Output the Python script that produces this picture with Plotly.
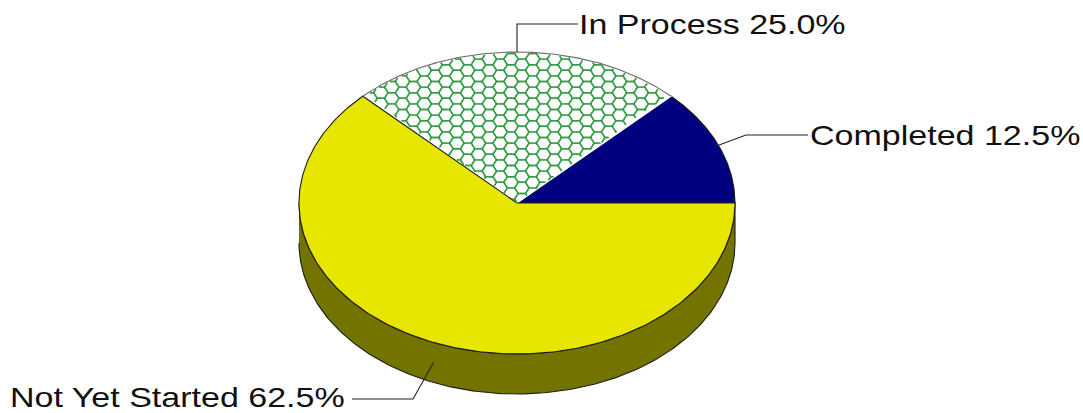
import numpy as np
import plotly.graph_objects as go

# Slice shares, listed counter-clockwise starting from the 3 o'clock direction
labels = ["Completed", "In Process", "Not Yet Started"]
shares = [12.5, 25.0, 62.5]
colors = ["#000080", "#FFFFFF", "#E6E600"]

W, H = 1083, 413
CX, CY, RX, RY = 517, 203, 218, 151   # ellipse of the pie top, in pixels
DEPTH = 40                             # height of the disc wall, in pixels
SIDE_COLOR = "#737300"
EDGE_COLOR = "#1c1c1c"
HEX_COLOR = "#2f9a40"

# Data axes: one unit is one pie radius on either axis, which turns the unit circle into the ellipse
x_range = [-CX / RX, (W - CX) / RX]
y_range = [-(H - CY) / RY, CY / RY]


def px_x(u):
    return (np.asarray(u, dtype=float) - CX) / RX


def px_y(v):
    return (CY - np.asarray(v, dtype=float)) / RY


def arc(a0, a1, n=240):
    t = np.radians(np.linspace(a0, a1, n))
    return np.cos(t), np.sin(t)


# Slice angles come from the shares
edges = np.concatenate([[0.0], np.cumsum(shares) * 3.6])
depth_u = DEPTH / RY

fig = go.Figure()


def poly(xs, ys, fill, line_color=EDGE_COLOR, width=1.1):
    fig.add_trace(go.Scatter(
        x=list(xs), y=list(ys), mode="lines", fill="toself", fillcolor=fill,
        line=dict(color=line_color, width=width), hoverinfo="skip", showlegend=False,
    ))


# Disc wall: the lower half of the rim, pushed down by the depth
bx, by = arc(180, 360)
poly(np.r_[bx, bx[::-1]], np.r_[by, by[::-1] - depth_u], SIDE_COLOR)

# Top faces
for i in range(len(shares)):
    ax, ay = arc(edges[i], edges[i + 1])
    poly(np.r_[0, ax, 0], np.r_[0, ay, 0], colors[i],
         line_color="#FFFFFF" if colors[i] == "#FFFFFF" else EDGE_COLOR)


# Honeycomb hatch for the "In Process" wedge, clipped to the wedge
def hex_mesh(a0, a1, side=7.23, row=5.6):
    seg_x, seg_y = [], []
    step = 1.5 * side
    x0, y0 = 511.0, 70.3
    corners = [(-side, 0), (-side / 2, -row), (side / 2, -row), (side, 0), (side / 2, row), (-side / 2, row)]
    for c in range(-40, 40):
        for r in range(-4, 40):
            hx = x0 + c * step
            hy = y0 + r * 2 * row + (row if c % 2 else 0)
            for k in range(6):
                p, q = corners[k], corners[(k + 1) % 6]
                s = np.linspace(0, 1, 9)
                ux = px_x(hx + p[0] + (q[0] - p[0]) * s)
                uy = px_y(hy + p[1] + (q[1] - p[1]) * s)
                ang = np.degrees(np.arctan2(uy, ux))
                keep = (np.hypot(ux, uy) < 0.995) & (ang > a0 + 0.8) & (ang < a1 - 0.8)
                for j in range(len(s) - 1):
                    if keep[j] and keep[j + 1]:
                        seg_x += [ux[j], ux[j + 1], None]
                        seg_y += [uy[j], uy[j + 1], None]
    return seg_x, seg_y


mx, my = hex_mesh(edges[1], edges[2])
fig.add_trace(go.Scatter(x=mx, y=my, mode="lines", line=dict(color=HEX_COLOR, width=1.4),
                         hoverinfo="skip", showlegend=False))

# Outer rim of the hatched wedge
ax, ay = arc(edges[1], edges[2])
fig.add_trace(go.Scatter(x=list(ax), y=list(ay), mode="lines", line=dict(color="#6a6a6a", width=1.1),
                         hoverinfo="skip", showlegend=False))

# Leader lines start at each slice's mid angle
mids = np.radians((edges[:-1] + edges[1:]) / 2)
anchor_x = np.cos(mids)
anchor_y = np.sin(mids)
anchor_y[2] -= depth_u / 2   # the largest slice is labelled from its wall

leaders = [
    ([746, 808], [135, 135]),
    ([517, 578], [24, 24]),
    ([413, 352], [399, 399]),
]
text_pos = [(810, 136), (579, 25), (10, 398)]

for i, (lx, ly) in enumerate(leaders):
    fig.add_trace(go.Scatter(
        x=[anchor_x[i]] + list(px_x(lx)), y=[anchor_y[i]] + list(px_y(ly)),
        mode="lines", line=dict(color="#222222", width=1.1), hoverinfo="skip", showlegend=False,
    ))
    fig.add_annotation(
        x=float(px_x(text_pos[i][0])), y=float(px_y(text_pos[i][1])),
        text=f"{labels[i]} {shares[i]:.1f}%", showarrow=False,
        xanchor="left", yanchor="middle", borderpad=0, borderwidth=0,
        font=dict(family="Liberation Sans", size=27, color="#111111"),
    )

fig.update_layout(
    width=W, height=H, margin=dict(l=0, r=0, t=0, b=0),
    paper_bgcolor="white", plot_bgcolor="white", showlegend=False,
    xaxis=dict(range=x_range, visible=False, fixedrange=True),
    yaxis=dict(range=y_range, visible=False, fixedrange=True),
)

# The labels use a horizontally extended face: widen the glyphs about their left edge
stretch_js = """
document.querySelectorAll('.annotation-text').forEach(function (t) {
  var b = t.getBBox();
  t.setAttribute('transform', 'translate(' + b.x + ' 0) scale(1.26 1) translate(' + (-b.x) + ' 0)');
});
"""
fig.write_html("out.html", config={"displayModeBar": False}, post_script=stretch_js)
